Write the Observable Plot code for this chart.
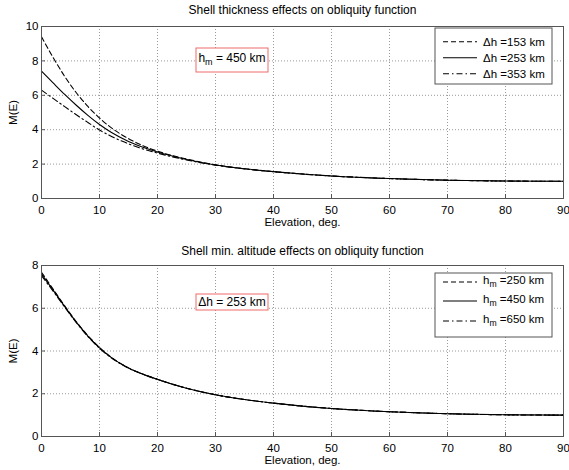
<!DOCTYPE html>
<html><head><meta charset="utf-8">
<script src="https://cdn.jsdelivr.net/npm/d3@7"></script>
<script src="https://cdn.jsdelivr.net/npm/@observablehq/plot@0.6"></script>
<style>
body{margin:0;background:#fff;}
#chart{width:569px;height:470px;position:relative;overflow:hidden;background:#fff;font-family:"Liberation Sans",Arial,sans-serif;}
#chart svg{display:block;}
</style></head><body><div id="chart"></div>
<script>
// ---- data ----
const elevation = [0,2,4,6,8,10,12,15,18,20,25,30,35,40,45,50,60,70,80,90];
const dh153 = [9.4,8.2,7.1,6.15,5.35,4.68,4.12,3.48,3.0,2.75,2.3,1.96,1.73,1.56,1.42,1.31,1.16,1.065,1.015,1.0];
const dh253 = [7.4,6.72,6.05,5.42,4.83,4.3,3.85,3.32,2.92,2.7,2.27,1.95,1.73,1.56,1.42,1.31,1.16,1.065,1.015,1.0];
const dh353 = [6.3,5.82,5.34,4.87,4.42,3.98,3.62,3.18,2.83,2.64,2.24,1.94,1.72,1.56,1.42,1.31,1.16,1.065,1.015,1.0];
const hm250 = [7.68,6.9,6.11,5.37,4.72,4.17,3.71,3.21,2.87,2.68,2.26,1.95,1.73,1.56,1.42,1.31,1.16,1.065,1.015,1.0];
const hm450 = [7.6,6.85,6.08,5.35,4.7,4.15,3.7,3.2,2.86,2.67,2.26,1.95,1.73,1.56,1.42,1.31,1.16,1.065,1.015,1.0];
const hm650 = [7.52,6.8,6.05,5.33,4.68,4.13,3.69,3.2,2.86,2.67,2.26,1.95,1.73,1.56,1.42,1.31,1.16,1.065,1.015,1.0];
const xTicks = [0,10,20,30,40,50,60,70,80,90];
const yTicksTop = [0,2,4,6,8,10];
const yTicksBottom = [0,2,4,6,8];
const titleTop = "Shell thickness effects on obliquity function";
const titleBottom = "Shell min. altitude effects on obliquity function";
const xLabel = "Elevation, deg.";
const yLabel = "M(E)";
const legendTop = [["Δh ", "", "=153 km"], ["Δh ", "", "=253 km"], ["Δh ", "", "=353 km"]];
const legendBottom = [["h", "m", " =250 km"], ["h", "m", " =450 km"], ["h", "m", " =650 km"]];
const annotTop = ["h", "m", " = 450 km"];
const annotBottom = ["Δh = 253 km", "", ""];

// ---- styles ----
const dashes = ["5,3", null, "6,3,1.5,3"];
const FONT = "'Liberation Sans', Arial, Helvetica, sans-serif";
const AXIS = "#555";
const GRID = "#9a9a9a";
const RED = "#ee6b6b";

const rowsOf = arr => elevation.map((e, i) => ({E: e, M: arr[i]}));

function panel({series, yDomain, yTicks, title, height, marginTop, marginBottom, titleDy}) {
  return Plot.plot({
    width: 569, height, marginLeft: 41, marginRight: 6, marginTop, marginBottom,
    style: {fontFamily: FONT, fontSize: "11.5px", color: "#000", background: "#fff", overflow: "visible"},
    x: {domain: [0, 90]},
    y: {domain: yDomain},
    marks: [
      Plot.gridX(xTicks, {stroke: GRID, strokeOpacity: 1, strokeDasharray: "1,2"}),
      Plot.gridY(yTicks, {stroke: GRID, strokeOpacity: 1, strokeDasharray: "1,2"}),
      ...series.map((s, i) => Plot.line(rowsOf(s), {x: "E", y: "M", stroke: "#000", strokeWidth: 1.1, strokeDasharray: dashes[i], curve: "monotone-x"})),
      Plot.frame({stroke: AXIS}),
      Plot.axisX(xTicks, {anchor: "bottom", tickSize: -4, tickPadding: 11, stroke: AXIS, label: xLabel, labelAnchor: "center", labelOffset: 27, labelArrow: "none"}),
      Plot.axisY(yTicks, {anchor: "left", tickSize: -4, tickPadding: 7, stroke: AXIS, label: yLabel, labelAnchor: "center", labelOffset: 33, labelArrow: "none"}),
      Plot.text([title], {text: d => d, frameAnchor: "top", dy: titleDy, fontSize: 12, lineAnchor: "middle"})
    ]
  });
}

function richText(g, parts, x, y, size, anchor) {
  const t = g.append("text").attr("x", x).attr("y", y).attr("font-size", size)
    .attr("font-family", FONT).attr("text-anchor", anchor).attr("dominant-baseline", "central").attr("fill", "#000");
  t.append("tspan").text(parts[0]);
  if (parts[1]) t.append("tspan").attr("font-size", size * 0.75).attr("dy", 4).text(parts[1]);
  if (parts[2]) t.append("tspan").attr("dy", parts[1] ? -4 : 0).text(parts[2]);
  return t;
}

function legend(svg, entries, box, rows) {
  const g = d3.select(svg).append("g");
  g.append("rect").attr("x", box[0]).attr("y", box[1]).attr("width", box[2]).attr("height", box[3])
    .attr("fill", "#fff").attr("stroke", AXIS).attr("stroke-width", 1);
  entries.forEach((e, i) => {
    g.append("line").attr("x1", 443).attr("x2", 477).attr("y1", rows[i]).attr("y2", rows[i])
      .attr("stroke", "#000").attr("stroke-width", 1.1).attr("stroke-dasharray", dashes[i]);
    richText(g, e, 483, rows[i] - (e[1] ? 2 : 0), 11.5, "start");
  });
}

function annotation(svg, parts, box, ty) {
  const g = d3.select(svg).append("g");
  g.append("rect").attr("x", box[0]).attr("y", box[1]).attr("width", box[2]).attr("height", box[3])
    .attr("fill", "#fff").attr("stroke", RED).attr("stroke-width", 1);
  richText(g, parts, box[0] + box[2] / 2, ty, 12, "middle");
}

const chart = document.getElementById("chart");
const topPanel = panel({series: [dh153, dh253, dh353], yDomain: [0, 10], yTicks: yTicksTop, title: titleTop, height: 240, marginTop: 26, marginBottom: 42, titleDy: -16});
const bottomPanel = panel({series: [hm250, hm450, hm650], yDomain: [0, 8], yTicks: yTicksBottom, title: titleBottom, height: 230, marginTop: 25, marginBottom: 34, titleDy: -14});
chart.appendChild(topPanel);
chart.appendChild(bottomPanel);

legend(topPanel, legendTop, [435, 28, 117, 56], [41.7, 57.7, 73.7]);
legend(bottomPanel, legendBottom, [435, 33, 117, 64], [42, 61, 81]);
annotation(topPanel, annotTop, [196, 48, 72, 24], 57.5);
annotation(bottomPanel, annotBottom, [196, 54, 72, 16], 62);
</script>
</body></html>
